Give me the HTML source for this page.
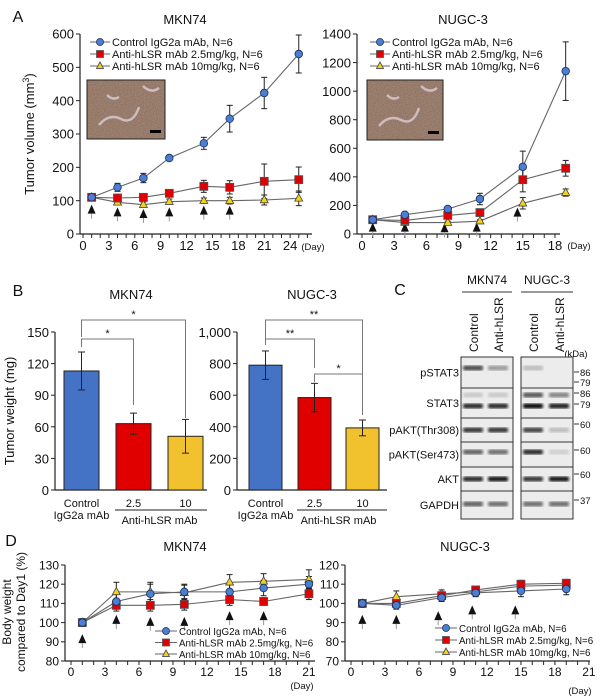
<!DOCTYPE html>
<html><head><meta charset="utf-8">
<style>
html,body{margin:0;padding:0;background:#fff;}
svg{display:block;font-family:"Liberation Sans",Arial,sans-serif;}
</style></head>
<body>
<svg id="fig" width="600" height="696" viewBox="0 0 600 696" xmlns="http://www.w3.org/2000/svg">
<defs>
<filter id="tex" x="0" y="0" width="100%" height="100%">
<feTurbulence type="fractalNoise" baseFrequency="0.9" numOctaves="2" seed="3" result="n"/>
<feColorMatrix type="matrix" values="0 0 0 0 0.35  0 0 0 0 0.24  0 0 0 0 0.18  0 0 0 -2.2 1.6" in="n"/>
</filter>
<filter id="blur1"><feGaussianBlur stdDeviation="1.2"/></filter>
</defs>
<g id="root"></g>
</svg>
<script>
// ===== Panel A data =====
const aLeftDays = [1,4,7,10,14,17,21,25];
const aLeftCtrl = [110,140,168,228,272,346,423,540];
const aLeftCtrlErr = [5,12,14,6,18,40,47,57];
const aLeftLow = [110,108,110,122,143,140,158,163];
const aLeftLowErr = [5,5,6,8,18,20,52,38];
const aLeftHigh = [110,95,88,97,100,100,102,107];
const aLeftHighErr = [5,8,8,8,8,10,15,22];
const aLeftArrows = [1,4,7,10,14,17];
const aLeftArrowVals = [88,80,75,80,85,85];
const aLeftYTicks = [0,100,200,300,400,500,600];
const aLeftXTicks = [0,3,6,9,12,15,18,21,24];

const aRightDays = [1,4,8,11,15,19];
const aRightCtrl = [100,135,175,245,470,1140];
const aRightCtrlErr = [5,10,15,40,110,205];
const aRightLow = [100,95,130,150,380,460];
const aRightLowErr = [5,10,15,15,85,55];
const aRightHigh = [100,80,80,90,215,290];
const aRightHighErr = [5,10,10,10,40,25];
const aRightArrows = [1,4,7.7,10.7,14.5];
const aRightArrowVals = [80,80,75,80,185];
const aRightYTicks = [0,200,400,600,800,1000,1200,1400];
const aRightXTicks = [0,3,6,9,12,15,18];

// ===== Panel B data =====
const bLeftVals = [113,63,51];
const bLeftErr = [18,10,16];
const bLeftYTicks = [0,30,60,90,120,150];
const bRightVals = [790,585,393];
const bRightErr = [90,90,50];
const bRightYTicks = [0,200,400,600,800,1000];
const bRightYLabels = ["0","200","400","600","800","1,000"];

// ===== Panel D data =====
const dLeftDays = [1,4,7,10,14,17,21];
const dLeftCtrl = [100,111,115,116,116,118,120];
const dLeftCtrlErr = [2,4,5,4,4,4,4];
const dLeftLow = [100,109,109,109.5,112,111,115];
const dLeftLowErr = [2,3,3,3,3,2,3];
const dLeftHigh = [100,116,116,115.5,121,121.5,122.5];
const dLeftHighErr = [2,5,5,4,4,4,5];
const dLeftArrows = [1,4,7,10,14,17];
const dLeftArrowVals = [94,104,103,103,106,106];
const dLeftYTicks = [80,90,100,110,120,130];
const dXTicks = [0,3,6,9,12,15,18,21];

const dRightDays = [1,4,8,11,15,19];
const dRightCtrl = [100,99,103,105.5,106.5,107.5];
const dRightCtrlErr = [2,2,2,2,3,3];
const dRightLow = [100,100,104,107,110,110.5];
const dRightLowErr = [2,2,2,2,2,2];
const dRightHigh = [100,103.5,105,106,109,109.5];
const dRightHighErr = [2,3,2,2,2,2];
const dRightArrows = [1,4,7.7,10.7,14.5];
const dRightArrowVals = [94,94,96,99,99];
const dRightYTicks = [70,80,90,100,110,120];

const NS = "http://www.w3.org/2000/svg";
const root = document.getElementById('root');
function el(tag, attrs, parent, text){
  const e = document.createElementNS(NS, tag);
  for (const k in attrs) e.setAttribute(k, attrs[k]);
  if (text !== undefined) e.textContent = text;
  (parent||root).appendChild(e);
  return e;
}
function group(name, parent){
  const g = el('g', {}, parent);
  
  
  return g;
}
function txt(parent, x, y, s, size, anchor, name, extra){
  const t = el('text', Object.assign({x:x, y:y, 'font-size':size, 'text-anchor':anchor||'middle', fill:'#111'}, extra||{}), parent, s);
  
  
  return t;
}
function marker(g, type, x, y, s){
  let m;
  if (type==='c') m = el('circle', {cx:x, cy:y, r:s, fill:'#4a7fd4', stroke:'#1a2a55', 'stroke-width':0.8}, g);
  else if (type==='s') m = el('rect', {x:x-s, y:y-s, width:2*s, height:2*s, fill:'#e00000', stroke:'#4a5560', 'stroke-width':0.8}, g);
  else m = el('polygon', {points:`${x},${y-s-0.5} ${x-s},${y+s*0.7} ${x+s},${y+s*0.7}`, fill:'#f5d21a', stroke:'#444', 'stroke-width':0.8}, g);
  
  
}
function errBar(g, x, y1, y2, cap){
  el('line', {x1:x, y1:y1, x2:x, y2:y2, stroke:'#222', 'stroke-width':1}, g);
  el('line', {x1:x-cap, y1:y1, x2:x+cap, y2:y1, stroke:'#222', 'stroke-width':1}, g);
  el('line', {x1:x-cap, y1:y2, x2:x+cap, y2:y2, stroke:'#222', 'stroke-width':1}, g);
}
function arrow(g, x, yTip){
  const a = el('polygon', {points:`${x},${yTip} ${x-4},${yTip+9} ${x+4},${yTip+9}`, fill:'#111'}, g);
  
  
  el('line', {x1:x, y1:yTip+9, x2:x, y2:yTip+14, stroke:'#999', 'stroke-width':1}, g);
}

function lineChart(o){
  const g = group(o.name);
  const xs = d => o.x0 + d*o.dx;
  const ys = v => o.yb - (v - o.ymin)*o.dy;
  el('line', {x1:o.ax, y1:ys(o.yTicks[o.yTicks.length-1]), x2:o.ax, y2:ys(o.ymin), stroke:'#222', 'stroke-width':1.2}, g);
  el('line', {x1:o.ax, y1:ys(o.ymin), x2:o.xEnd, y2:ys(o.ymin), stroke:'#222', 'stroke-width':1.2}, g);
  o.yTicks.forEach((v,i)=>{
    el('line', {x1:o.ax-4, y1:ys(v), x2:o.ax, y2:ys(v), stroke:'#222'}, g);
    txt(g, o.ax-6, ys(v)+o.fs*0.36, String(v), o.fs, 'end', 'y-tick-label');
  });
  for (let d=0; xs(d)<=o.xEnd+0.5; d++) el('line', {x1:xs(d), y1:ys(o.ymin), x2:xs(d), y2:ys(o.ymin)+4, stroke:'#222'}, g);
  o.xTicks.forEach(d=> txt(g, xs(d), ys(o.ymin)+o.fs+3, String(d), o.fs, 'middle', 'x-tick-label'));
  txt(g, o.dayX, o.dayY, '(Day)', 9.5, 'middle', 'x-axis-unit');
  txt(g, o.titleX, o.titleY, o.title, 13, 'middle', 'chart-title');
  o.arrows.forEach((d,i)=> arrow(g, xs(d), ys(o.arrowVals[i])));
  const ser = [[o.high,o.highErr,'t'],[o.low,o.lowErr,'s'],[o.ctrl,o.ctrlErr,'c']];
  ser.forEach(([vals, errs, t])=>{
    const sg = group(t==='c'?'control-series':(t==='s'?'low-dose-series':'high-dose-series'), g);
    el('polyline', {points: vals.map((v,i)=>xs(o.days[i])+','+ys(v)).join(' '), fill:'none', stroke:'#666', 'stroke-width':1.1}, sg);
    vals.forEach((v,i)=> errBar(sg, xs(o.days[i]), ys(v+errs[i]), ys(v-errs[i]), 3));
  });
  ser.forEach(([vals, errs, t])=>{
    vals.forEach((v,i)=> marker(g, t, xs(o.days[i]), ys(v), t==='t'?4:(t==='s'?4:3.8)));
  });
  const lg = group('legend', g);
  const labels = ['Control IgG2a mAb, N=6','Anti-hLSR mAb 2.5mg/kg, N=6','Anti-hLSR mAb 10mg/kg, N=6'];
  ['c','s','t'].forEach((t,i)=>{
    const y = o.legY + i*o.legDy;
    el('line', {x1:o.legX, y1:y, x2:o.legX+o.legW, y2:y, stroke:'#666', 'stroke-width':1.1}, lg);
    marker(lg, t, o.legX+o.legW/2, y, 3.5);
    txt(lg, o.legX+o.legW+2, y+4, labels[i], o.legFs, 'start', 'legend-entry');
  });
}

txt(root, 18, 22, 'A', 16, 'middle', 'panel-label-a');
txt(root, 18, 296, 'B', 16, 'middle', 'panel-label-b');
txt(root, 400, 295, 'C', 16, 'middle', 'panel-label-c');
txt(root, 11, 546, 'D', 16, 'middle', 'panel-label-d');

lineChart({name:'chart-a-mkn74', x0:83, dx:8.63, yb:234, ymin:0, dy:200/600, ax:80, xEnd:312,
  yTicks:aLeftYTicks, xTicks:aLeftXTicks, fs:13, dayX:313, dayY:250, title:'MKN74', titleX:185, titleY:24,
  days:aLeftDays, ctrl:aLeftCtrl, ctrlErr:aLeftCtrlErr, low:aLeftLow, lowErr:aLeftLowErr, high:aLeftHigh, highErr:aLeftHighErr,
  arrows:aLeftArrows, arrowVals:aLeftArrowVals, legX:90, legW:20, legY:42, legDy:12, legFs:11});
lineChart({name:'chart-a-nugc3', x0:362, dx:10.72, yb:234, ymin:0, dy:200/1400, ax:357, xEnd:560,
  yTicks:aRightYTicks, xTicks:aRightXTicks, fs:13, dayX:579, dayY:249, title:'NUGC-3', titleX:463, titleY:24,
  days:aRightDays, ctrl:aRightCtrl, ctrlErr:aRightCtrlErr, low:aRightLow, lowErr:aRightLowErr, high:aRightHigh, highErr:aRightHighErr,
  arrows:aRightArrows, arrowVals:aRightArrowVals, legX:370, legW:20, legY:42, legDy:12, legFs:11});
(function(){
  const t = txt(root, 0, 0, 'Tumor volume (mm', 13, 'middle', 'y-axis-title-a', {transform:'translate(34,134) rotate(-90)'});
  el('tspan', {'font-size':9, dy:-5}, t, '3');
  el('tspan', {dy:5}, t, ')');
})();
function inset(x,y,w,h,name){
  const g = group(name);
  el('rect', {x:x, y:y, width:w, height:h, fill:'#8f7061', stroke:'#222', 'stroke-width':1}, g);
  el('rect', {x:x+0.5, y:y+0.5, width:w-1, height:h-1, filter:'url(#tex)'}, g);
  el('path', {d:`M${x+12},${y+h-14} q10,-12 22,-6 t18,-12 M${x+w-22},${y+6} q8,8 16,2 M${x+20},${y+15} q6,6 12,2`, stroke:'#ddd3dc', 'stroke-width':2.5, fill:'none', opacity:0.75}, g);
  el('rect', {x:x+w-15, y:y+h-9, width:11, height:3, fill:'#000'}, g);
}
inset(87,80,78,59,'ihc-inset-mkn74');
inset(367,80,76,60,'ihc-inset-nugc3');

function barChart(o){
  const g = group(o.name);
  const ys = v => 490 - v*o.dy;
  el('line', {x1:o.ax, y1:ys(o.ticks[o.ticks.length-1]), x2:o.ax, y2:490, stroke:'#222', 'stroke-width':1.2}, g);
  el('line', {x1:o.ax, y1:490, x2:o.xEnd, y2:490, stroke:'#222', 'stroke-width':1.2}, g);
  o.ticks.forEach((v,i)=>{
    el('line', {x1:o.ax-4, y1:ys(v), x2:o.ax, y2:ys(v), stroke:'#222'}, g);
    txt(g, o.ax-6, ys(v)+5, o.labels?o.labels[i]:String(v), 13, 'end', 'y-tick-label');
  });
  const colors = ['#4472c4','#e00000','#f2c12e'];
  const names = ['bar-control','bar-2.5mg','bar-10mg'];
  o.vals.forEach((v,i)=>{
    const b = el('rect', {x:o.bx[i], y:ys(v), width:o.bw, height:490-ys(v), fill:colors[i], stroke:'#222', 'stroke-width':1}, g);
    
    
    errBar(g, o.bx[i]+o.bw/2, ys(v+o.err[i]), ys(v-o.err[i]), 3.5);
  });
  const c = i => o.bx[i]+o.bw/2;
  txt(g, (o.ax+o.xEnd)/2, 299, o.title, 13, 'middle', 'chart-title');
  txt(g, c(0), 507, 'Control', 11, 'middle', 'x-label-control');
  txt(g, c(0), 519, 'IgG2a mAb', 11, 'middle', 'x-label-control-2');
  txt(g, c(1), 507, '2.5', 11, 'middle', 'x-label-2.5');
  txt(g, c(2), 507, '10', 11, 'middle', 'x-label-10');
  el('line', {x1:o.bx[1]-1, y1:510, x2:o.xEnd, y2:510, stroke:'#222'}, g);
  txt(g, (c(1)+c(2))/2, 524, 'Anti-hLSR mAb', 11, 'middle', 'x-label-anti-hlsr');
  o.brackets.forEach(([i,j,yb,y1,y2,s])=>{
    const bg = group('significance-bracket', g);
    el('polyline', {points:`${c(i)},${y1} ${c(i)},${yb} ${c(j)},${yb} ${c(j)},${y2}`, fill:'none', stroke:'#777', 'stroke-width':1}, bg);
    txt(bg, (c(i)+c(j))/2, yb-2, s, 11, 'middle', 'significance-star');
  });
}
barChart({name:'chart-b-mkn74', ax:55, xEnd:207, dy:158/150, ticks:bLeftYTicks, vals:bLeftVals, err:bLeftErr,
  bx:[64,116,168], bw:35, title:'MKN74',
  brackets:[[0,2,320,337,418,'*'],[0,1,339,347,405,'*']]});
barChart({name:'chart-b-nugc3', ax:237, xEnd:387, dy:158/1000, ticks:bRightYTicks, labels:bRightYLabels, vals:bRightVals, err:bRightErr,
  bx:[249,298,346], bw:33, title:'NUGC-3',
  brackets:[[0,2,320,339,415,'**'],[0,1,339,345,368,'**'],[1,2,374,382,415,'*']]});
txt(root, 0, 0, 'Tumor weight (mg)', 13, 'middle', 'y-axis-title-b', {transform:'translate(14,411) rotate(-90)'});

(function(){
  const g = group('western-blot');
  txt(g, 487, 284, 'MKN74', 12, 'middle', 'blot-header-mkn74');
  txt(g, 547, 284, 'NUGC-3', 12, 'middle', 'blot-header-nugc3');
  el('line', {x1:462, y1:292, x2:512, y2:292, stroke:'#333'}, g);
  el('line', {x1:521, y1:292, x2:573, y2:292, stroke:'#333'}, g);
  [[478,'Control'],[503,'Anti-hLSR'],[538,'Control'],[564,'Anti-hLSR']].forEach(([x,s])=>{
    txt(g, 0, 0, s, 12, 'start', 'lane-label', {transform:`translate(${x},352) rotate(-90)`});
  });
  txt(g, 576, 357, '(kDa)', 9.5, 'middle', 'kda-label');
  const rows = [357,388,418,442,467,491,519];
  const names = ['pSTAT3','STAT3','pAKT(Thr308)','pAKT(Ser473)','AKT','GAPDH'];
  const bands = [
    [[11,[0.7,0.35,0.2,0]]],
    [[7,[0.15,0.15,0.65,0.45]],[18,[0.85,0.85,1,0.9]]],
    [[12,[0.8,0.8,0.75,0.2]]],
    [[10,[0.6,0.55,0.85,0.12]]],
    [[12,[0.85,0.95,0.8,0.95]]],
    [[13,[0.6,0.55,0.55,0.55]]]
  ];
  const laneX = [473,498,533,559];
  for (let r=0;r<6;r++){
    const y0 = rows[r], h = rows[r+1]-rows[r];
    [[461,52],[521,52]].forEach(([x,w])=> el('rect', {x:x, y:y0, width:w, height:h, fill:'#ececec', stroke:'#333', 'stroke-width':1}, g));
    bands[r].forEach(([dy, ops])=>{
      ops.forEach((op,i)=>{ if(op>0){
        const b = el('rect', {x:laneX[i]-10, y:y0+dy-2.5, width:20, height:5, rx:2, fill:'#111', opacity:op, filter:'url(#blur1)'}, g);
        
        
      }});
    });
    txt(g, 459, y0+h/2+4, names[r], 11, 'end', 'blot-row-label');
  }
  [[376,'86'],[386,'79'],[397,'86'],[408,'79'],[428,'60'],[454,'60'],[478,'60'],[504,'37']].forEach(([y,s])=>{
    el('line', {x1:574, y1:y-4, x2:579, y2:y-4, stroke:'#333'}, g);
    txt(g, 580, y, s, 9.5, 'start', 'kda-marker');
  });
})();

lineChart({name:'chart-d-mkn74', x0:71, dx:11.33, yb:661, ymin:80, dy:96/50, ax:65, xEnd:315,
  yTicks:dLeftYTicks, xTicks:dXTicks, fs:12, dayX:302, dayY:689, title:'MKN74', titleX:185, titleY:551,
  days:dLeftDays, ctrl:dLeftCtrl, ctrlErr:dLeftCtrlErr, low:dLeftLow, lowErr:dLeftLowErr, high:dLeftHigh, highErr:dLeftHighErr,
  arrows:dLeftArrows, arrowVals:dLeftArrowVals, legX:155, legW:22, legY:631, legDy:11.5, legFs:9.8});
lineChart({name:'chart-d-nugc3', x0:351, dx:11.33, yb:661, ymin:70, dy:96/50, ax:345, xEnd:590,
  yTicks:dRightYTicks, xTicks:dXTicks, fs:12, dayX:580, dayY:694, title:'NUGC-3', titleX:465, titleY:551,
  days:dRightDays, ctrl:dRightCtrl, ctrlErr:dRightCtrlErr, low:dRightLow, lowErr:dRightLowErr, high:dRightHigh, highErr:dRightHighErr,
  arrows:dRightArrows, arrowVals:dRightArrowVals, legX:435, legW:22, legY:628, legDy:12, legFs:9.8});
txt(root, 0, 0, 'Body weight', 12, 'middle', 'y-axis-title-d-1', {transform:'translate(11,612) rotate(-90)'});
txt(root, 0, 0, 'compared to Day1 (%)', 12, 'middle', 'y-axis-title-d-2', {transform:'translate(25,612) rotate(-90)'});
</script>
</body></html>
